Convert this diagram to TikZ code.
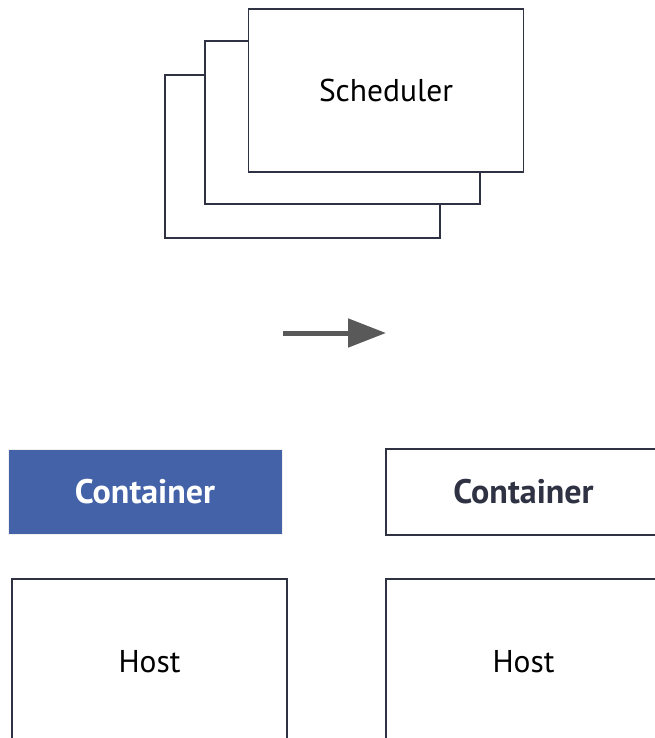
\documentclass[tikz,border=0pt]{standalone}
\usepackage{fontspec}
\setmainfont{PT Sans}
\usetikzlibrary{arrows.meta}
\definecolor{ink}{HTML}{2E3242}
\definecolor{accent}{HTML}{4462A8}
\definecolor{arrowgray}{HTML}{595959}
\begin{document}
\begin{tikzpicture}[x=1pt,y=-1pt,
  card/.style={draw=ink,line width=1.8pt,fill=white,minimum width=275pt,minimum height=163pt,inner sep=0pt},
  box/.style={draw=ink,line width=1.8pt,fill=white,minimum width=275pt,inner sep=0pt},
  label/.style={font=\fontsize{31.5}{36}\selectfont,text=black},
  boldlabel/.style={font=\fontsize{34}{40}\selectfont\bfseries}]
\useasboundingbox (0,0) rectangle (655,738);
\fill[white] (0,0) rectangle (655,738);
% stacked scheduler cards
\node[card] (back) at (302.5,156.5) {};
\node[card] (mid) at (342.5,122.5) {};
\node[card,label] (sched) at (386,90.5) {Scheduler};
% arrow
\coordinate (a0) at (283,333);
\coordinate (a1) at (386,333);
\draw[arrowgray,line width=5pt,-{Triangle[length=38pt,width=28pt]}] (a0) -- (a1);
% containers
\node[fill=accent,draw=white!94!black,line width=1pt,minimum width=274pt,minimum height=85pt,inner sep=0pt,boldlabel,text=white] (c1) at (145,491.5) {Container};
\node[box,minimum height=86pt,boldlabel,text=ink] (c2) at (523.5,492) {Container};
% hosts
\node[box,minimum height=166pt,label] (h1) at (149.5,662) {Host};
\node[box,minimum height=166pt,label] (h2) at (523.5,662) {Host};
\end{tikzpicture}
\end{document}
